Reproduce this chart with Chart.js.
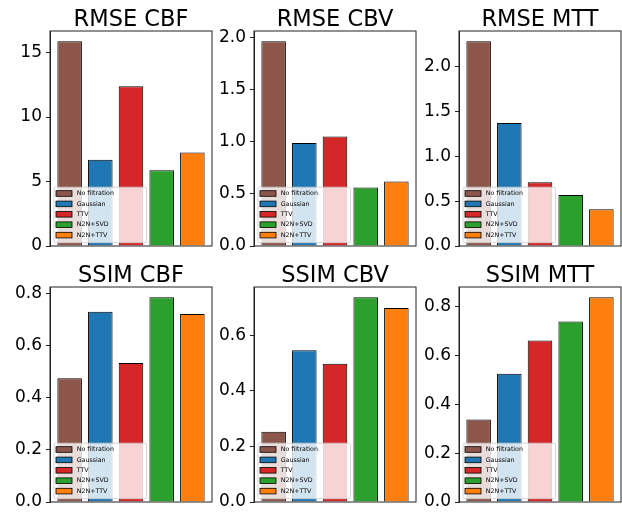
<!DOCTYPE html>
<html lang="en">
<head>
<meta charset="UTF-8">
<title>RMSE and SSIM of perfusion maps</title>
<script src="https://cdn.jsdelivr.net/npm/chart.js"></script>
<style>
    html, body { margin: 0; padding: 0; background: #fff; overflow: hidden; }
    body { width: 622px; height: 513px; position: relative; }
    .panel { position: absolute; }
    canvas { display: block; }
</style>
</head>
<body>

<div class="panel" style="left:0px;top:0px"><canvas id="c0" width="214" height="261"></canvas></div>
<div class="panel" style="left:204px;top:0px"><canvas id="c1" width="214" height="261"></canvas></div>
<div class="panel" style="left:409px;top:0px"><canvas id="c2" width="214" height="261"></canvas></div>
<div class="panel" style="left:0px;top:256px"><canvas id="c3" width="214" height="261"></canvas></div>
<div class="panel" style="left:204px;top:256px"><canvas id="c4" width="214" height="261"></canvas></div>
<div class="panel" style="left:409px;top:256px"><canvas id="c5" width="214" height="261"></canvas></div>

<script>
    // methods compared in every panel
    const methods = ['No filtration', 'Gaussian', 'TTV', 'N2N+SVD', 'N2N+TTV'];
    const methodColors = ['#8c564b', '#1f77b4', '#d62728', '#2ca02c', '#ff7f0e'];

    // values
    const rmseCBF = [15.88, 6.68, 12.38, 5.88, 7.25];
    const rmseCBV = [1.962, 0.986, 1.05, 0.56, 0.618];
    const rmseMTT = [2.287, 1.373, 0.713, 0.571, 0.41];
    const ssimCBF = [0.476, 0.731, 0.534, 0.787, 0.723];
    const ssimCBV = [0.253, 0.546, 0.498, 0.737, 0.698];
    const ssimMTT = [0.338, 0.525, 0.662, 0.740, 0.839];

    const titles = ['RMSE CBF', 'RMSE CBV', 'RMSE MTT', 'SSIM CBF', 'SSIM CBV', 'SSIM MTT'];
    const series = [rmseCBF, rmseCBV, rmseMTT, ssimCBF, ssimCBV, ssimMTT];
    const tickSteps = [5, 0.5, 0.5, 0.2, 0.2, 0.2];
    const tickDecimals = [0, 1, 1, 1, 1, 1];

    const FONT = '"DejaVu Sans", Arial, sans-serif';

    // axes frame + matplotlib-like legend in the lower left corner
    const frameAndLegend = {
        id: 'frameAndLegend',
        afterDatasetsDraw(chart) {
            const { ctx, chartArea: a } = chart;
            ctx.save();
            ctx.strokeStyle = '#222';
            ctx.lineWidth = 1;
            ctx.strokeRect(a.left, a.top, a.right - a.left, a.bottom - a.top);

            const ds = chart.data.datasets[0];
            const bx = a.left + 4, bw = 92.5, bh = 55.5;
            const by = a.bottom - 3.3 - bh;
            ctx.fillStyle = 'rgba(255,255,255,0.8)';
            ctx.strokeStyle = 'rgba(204,204,204,0.8)';
            ctx.beginPath();
            ctx.roundRect(bx, by, bw, bh, 2);
            ctx.fill();
            ctx.stroke();

            ctx.font = '6.3px ' + FONT;
            ctx.textBaseline = 'middle';
            ctx.textAlign = 'left';
            chart.data.labels.forEach((label, i) => {
                const cy = by + 6.3 + i * 10.4;
                ctx.fillStyle = ds.backgroundColor[i];
                ctx.fillRect(bx + 2, cy - 2.8, 16, 5.6);
                ctx.strokeStyle = '#000';
                ctx.lineWidth = 0.8;
                ctx.strokeRect(bx + 2, cy - 2.8, 16, 5.6);
                ctx.fillStyle = '#000';
                ctx.fillText(label, bx + 22.7, cy);
            });
            ctx.restore();
        }
    };

    series.forEach((vals, k) => {
        const dec = tickDecimals[k];
        new Chart(document.getElementById('c' + k), {
            type: 'bar',
            data: {
                labels: methods,
                datasets: [{
                    data: vals.map((v, i) => ({ x: i, y: v })),
                    backgroundColor: methodColors,
                    borderColor: '#000',
                    borderWidth: 1,
                    categoryPercentage: 0.8,
                    barPercentage: 1.0
                }]
            },
            options: {
                responsive: false,
                animation: false,
                layout: { padding: { left: 0, right: 2, top: 0, bottom: 15 } },
                scales: {
                    x: {
                        type: 'linear',
                        display: false,
                        offset: false,
                        min: -0.64,
                        max: methods.length - 1 + 0.64,
                        afterBuildTicks: s => { s.ticks = methods.map((_, i) => ({ value: i })); }
                    },
                    y: {
                        min: 0,
                        max: Math.max(...vals) * 1.05,   // matplotlib's 5% top margin
                        afterFit: s => { s.width = 50; },
                        border: { display: true, color: '#222', width: 1 },
                        grid: { drawOnChartArea: false, drawTicks: true, tickLength: 4, color: '#222' },
                        ticks: {
                            stepSize: tickSteps[k],
                            includeBounds: false,
                            padding: 4,
                            color: '#000',
                            font: { family: FONT, size: 17 },
                            callback: v => v.toFixed(dec)
                        }
                    }
                },
                plugins: {
                    legend: { display: false },
                    tooltip: { enabled: false },
                    title: {
                        display: true,
                        text: titles[k],
                        fullSize: false,
                        color: '#000',
                        font: { family: FONT, size: 22.5, weight: 'normal', lineHeight: 1.0 },
                        padding: { top: 8.5, bottom: 0 }
                    }
                }
            },
            plugins: [frameAndLegend]
        });
    });
</script>
</body>
</html>
